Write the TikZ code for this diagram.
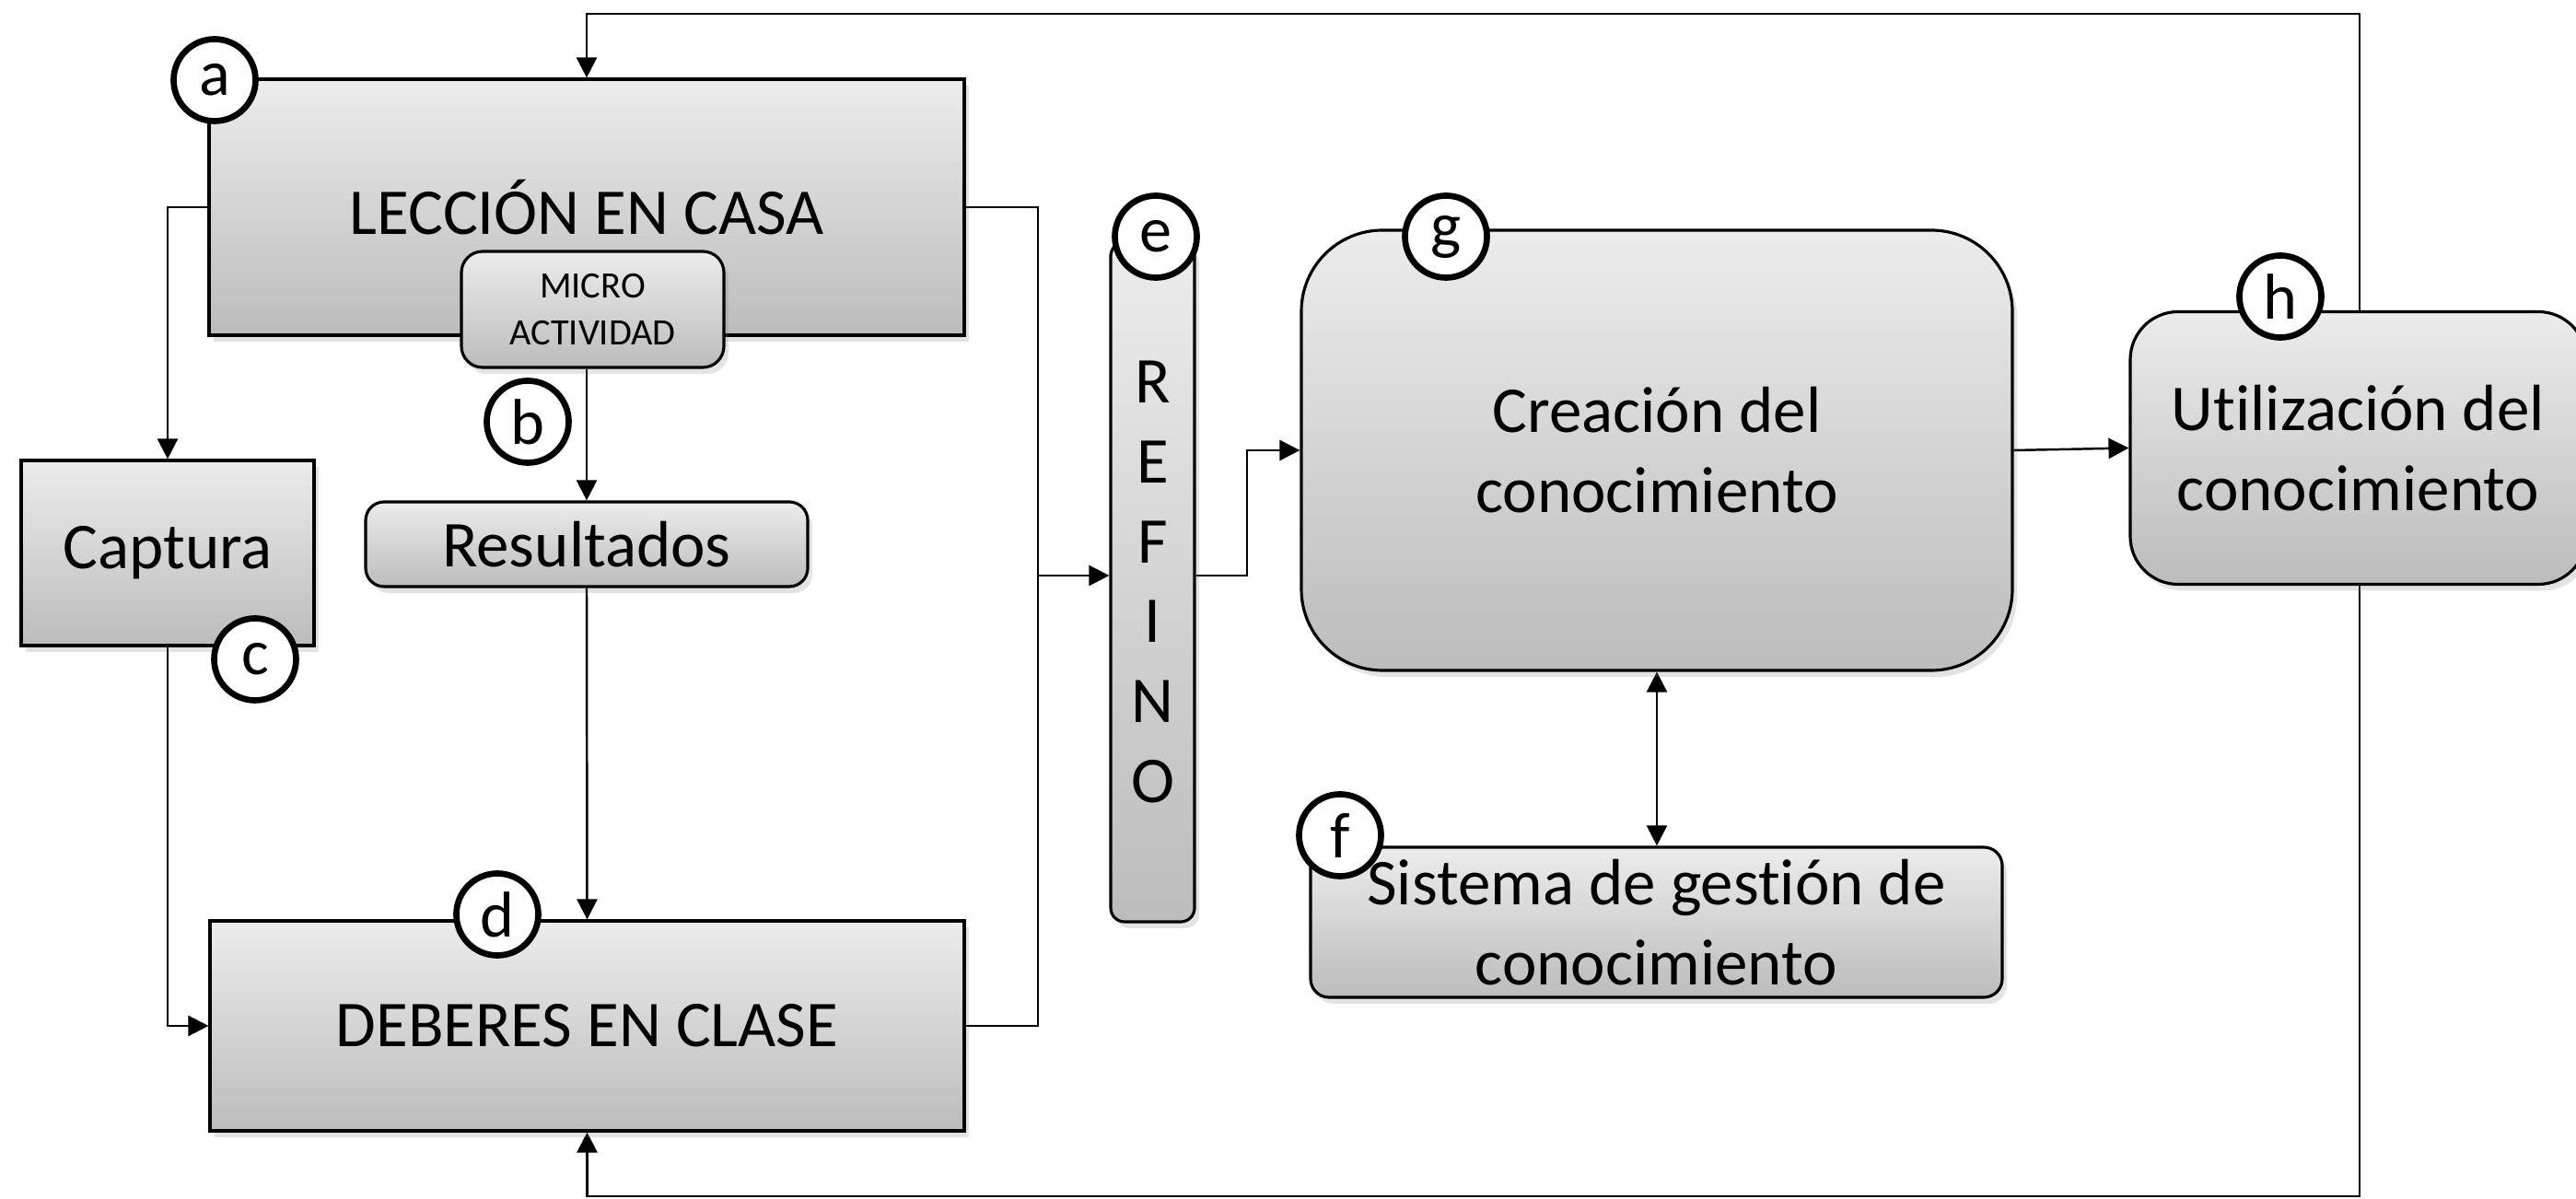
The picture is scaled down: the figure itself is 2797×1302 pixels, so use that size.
\documentclass[tikz,border=0pt]{standalone}
\usepackage{fontspec}
\setmainfont{Carlito}[Ligatures=NoCommon]
\usetikzlibrary{arrows.meta,shadows,backgrounds,calc}
\definecolor{boxtop}{RGB}{236,236,236}
\definecolor{boxbot}{RGB}{188,188,188}
\begin{document}
\begin{tikzpicture}[x=0.1mm,y=-0.1mm,
  box/.style={draw=black, line width=0.9pt, top color=boxtop, bottom color=boxbot,
    inner sep=0pt, align=center, font=\fontsize{20.2}{24.7}\selectfont,
    drop shadow={opacity=0.22, shadow xshift=0.5mm, shadow yshift=-0.7mm}},
  rbox/.style={box, rounded corners=#1},
  lbl/.style={circle, draw=black, line width=1.9pt, fill=white, minimum size=8.9mm,
    inner sep=0pt, font=\fontsize{20}{24}\selectfont},
  conn/.style={draw=black, line width=0.7pt},
  arr/.style={conn, -{Triangle[length=2.2mm,width=2.2mm]}},
  darr/.style={conn, {Triangle[length=2.2mm,width=2.2mm]}-{Triangle[length=2.2mm,width=2.2mm]}}
]
\useasboundingbox (0,0) rectangle (2797,1302);

% boxes
\node[box, minimum width=82mm, minimum height=27.8mm] (lec) at (637,225) {LECCIÓN EN CASA};
\node[rbox=2.3mm, minimum width=28.5mm, minimum height=12.6mm, font=\fontsize{11.5}{14.5}\selectfont] (micro) at (643.5,336) {MICRO\\ACTIVIDAD};
\node[rbox=2mm, minimum width=48mm, minimum height=9.2mm] (res) at (637,591) {Resultados};
\node[box, minimum width=31.8mm, minimum height=20.1mm] (cap) at (182,600.5) {Captura};
\node[box, minimum width=81.9mm, minimum height=22.8mm] (deb) at (637.5,1114) {DEBERES EN CLASE};
\node[rbox=1.5mm, minimum width=9.1mm, minimum height=73.8mm] (ref) at (1251.5,632) {R\\E\\F\\I\\N\\O};
\node[rbox=8.8mm, minimum width=77.2mm, minimum height=47.8mm] (g) at (1799,489) {Creación del\\conocimiento};
\node[rbox=5.2mm, minimum width=49.5mm, minimum height=29.6mm] (h) at (2560.5,486.5) {Utilización del\\conocimiento};
\node[rbox=2mm, minimum width=75.1mm, minimum height=16.3mm] (f) at (1798.5,1001.5) {Sistema de gestión de\\conocimiento};

% circled labels
\node[lbl] (la) at (233,87) {a};
\node[lbl] (lb) at (573,458) {b};
\node[lbl] (lc) at (277,716) {c};
\node[lbl] (ld) at (540,993) {d};
\node[lbl] (le) at (1255,257) {e};
\node[lbl] (lf) at (1455,907) {f};
\node[lbl] (lg) at (1570,257) {g};
\node[lbl] (lh) at (2476,322) {h};

% connectors
\coordinate (tr) at (2562,15);
\coordinate (br) at (2562,1299);
\coordinate (jx) at (1127,625);
\coordinate (kx) at (1354,625);

\begin{pgfonlayer}{background}
\fill[white] (0,0) rectangle (2797,1302);
\draw[arr] (h.north -| tr) -- (tr) -| (lec.north);
\draw[arr] (h.south -| br) -- (br) -| (deb.south);
\draw[arr] (lec.west) -| (cap.north);
\draw[arr] (cap.south) |- (deb.west);
\draw[arr] (res.north |- micro.south) -- (res.north);
\draw[arr] (res.south) -- (deb.north);
\draw[conn] (lec.east) -| (jx) |- (deb.east);
\draw[arr] (jx) -- (jx -| ref.west);
\draw[arr] (jx -| ref.east) -- (kx) |- (g.west);
\draw[arr] (g.east) -- (h.west);
\draw[darr] (g.south) -- (g.south |- f.north);
\end{pgfonlayer}
\end{tikzpicture}
\end{document}
